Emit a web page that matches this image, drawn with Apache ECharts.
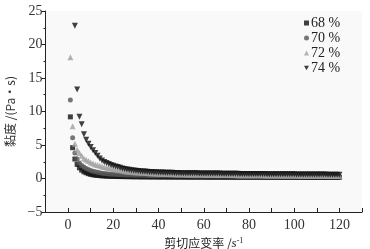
<!DOCTYPE html>
<html><head><meta charset="utf-8">
<script src="https://cdn.jsdelivr.net/npm/echarts@6/dist/echarts.min.js"></script>
<style>html,body{margin:0;padding:0;background:#fff}#c{width:370px;height:249px}</style>
</head><body><div id="c"></div>
<script>
var seriesNames = ['68 %', '70 %', '72 %', '74 %'];
var shearRate = [1,2,3,4,5,6,7,8,9,10,11,12,13,14,15,16,17,18,19,20,21,22,23,24,25,26,27,28,29,30,31,32,33,34,35,36,37,38,39,40,41,42,43,44,45,46,47,48,49,50,51,52,53,54,55,56,57,58,59,60,61,62,63,64,65,66,67,68,69,70,71,72,73,74,75,76,77,78,79,80,81,82,83,84,85,86,87,88,89,90,91,92,93,94,95,96,97,98,99,100,101,102,103,104,105,106,107,108,109,110,111,112,113,114,115,116,117,118,119,120];
var visc68 = [9.2,4.6,2.9,2.1,1.6,1.25,1.0,0.85,0.72,0.62,0.55,0.5,0.46,0.43,0.4,0.38,0.36,0.34,0.33,0.32,
0.31,0.3,0.29,0.29,0.28,0.28,0.27,0.27,0.26,0.26,0.26,0.25,0.25,0.25,0.25,0.24,0.24,0.24,0.24,0.23,
0.23,0.23,0.23,0.23,0.22,0.22,0.22,0.22,0.22,0.22,0.22,0.21,0.21,0.21,0.21,0.21,0.21,0.21,0.21,0.21,
0.2,0.2,0.2,0.2,0.2,0.2,0.2,0.2,0.2,0.2,0.2,0.2,0.19,0.19,0.19,0.19,0.19,0.19,0.19,0.19,
0.19,0.19,0.19,0.19,0.19,0.19,0.18,0.18,0.18,0.18,0.18,0.18,0.18,0.18,0.18,0.18,0.18,0.18,0.18,0.18,
0.18,0.18,0.18,0.17,0.17,0.17,0.17,0.17,0.17,0.17,0.17,0.17,0.17,0.17,0.17,0.17,0.17,0.17,0.17,0.17];
var visc70 = [11.7,6.1,3.8,2.9,2.3,1.95,1.7,1.5,1.35,1.2,1.1,1.0,0.92,0.86,0.8,0.76,0.72,0.68,0.65,0.62,
0.6,0.58,0.56,0.55,0.54,0.53,0.52,0.51,0.5,0.49,0.48,0.48,0.47,0.47,0.46,0.46,0.45,0.45,0.44,0.44,
0.44,0.43,0.43,0.43,0.42,0.42,0.42,0.41,0.41,0.41,0.4,0.4,0.4,0.4,0.39,0.39,0.39,0.39,0.38,0.38,
0.38,0.38,0.37,0.37,0.37,0.37,0.36,0.36,0.36,0.36,0.36,0.35,0.35,0.35,0.35,0.35,0.34,0.34,0.34,0.34,
0.34,0.33,0.33,0.33,0.33,0.33,0.33,0.32,0.32,0.32,0.32,0.32,0.32,0.31,0.31,0.31,0.31,0.31,0.31,0.3,
0.3,0.3,0.3,0.3,0.3,0.3,0.29,0.29,0.29,0.29,0.29,0.29,0.29,0.28,0.28,0.28,0.28,0.28,0.28,0.28];
var visc72 = [18.1,7.8,5.2,4.3,3.8,3.4,3.0,2.8,2.6,2.4,2.25,2.1,2.0,1.9,1.8,1.72,1.64,1.56,1.48,1.4,
1.34,1.28,1.22,1.16,1.1,1.05,1.01,0.98,0.95,0.92,0.9,0.88,0.86,0.84,0.82,0.8,0.78,0.76,0.74,0.72,
0.71,0.7,0.69,0.68,0.67,0.66,0.65,0.64,0.63,0.62,0.62,0.61,0.61,0.6,0.6,0.59,0.59,0.58,0.58,0.57,
0.57,0.56,0.56,0.55,0.55,0.54,0.54,0.53,0.53,0.52,0.52,0.52,0.51,0.51,0.5,0.5,0.5,0.49,0.49,0.49,
0.48,0.48,0.48,0.47,0.47,0.47,0.46,0.46,0.46,0.45,0.45,0.45,0.45,0.44,0.44,0.44,0.44,0.43,0.43,0.43,
0.43,0.42,0.42,0.42,0.42,0.41,0.41,0.41,0.41,0.4,0.4,0.4,0.4,0.4,0.39,0.39,0.39,0.39,0.38,0.38];
var visc74 = [null,null,22.8,13.3,9.2,8.1,6.6,5.8,5.2,4.7,4.2,3.8,3.4,3.0,2.7,2.45,2.3,2.15,2.0,1.9,
1.8,1.7,1.6,1.5,1.42,1.35,1.3,1.25,1.2,1.16,1.12,1.09,1.06,1.03,1.0,0.98,0.96,0.94,0.92,0.9,
0.89,0.88,0.87,0.86,0.85,0.84,0.83,0.82,0.81,0.8,0.8,0.79,0.79,0.78,0.78,0.77,0.77,0.76,0.76,0.75,
0.75,0.75,0.74,0.74,0.73,0.73,0.73,0.72,0.72,0.71,0.71,0.71,0.7,0.7,0.7,0.69,0.69,0.69,0.68,0.68,
0.68,0.67,0.67,0.67,0.66,0.66,0.66,0.65,0.65,0.65,0.64,0.64,0.64,0.63,0.63,0.63,0.62,0.62,0.62,0.62,
0.61,0.61,0.61,0.6,0.6,0.6,0.6,0.59,0.59,0.59,0.58,0.58,0.58,0.58,0.57,0.57,0.57,0.56,0.56,0.56];
var xTickLabels = ['0','20','40','60','80','100','120'];
var yTickLabels = ['-5','0','5','10','15','20','25'];

function pairs(ys){ return shearRate.map(function(x,i){ return ys[i]==null ? null : [x, ys[i]]; }).filter(function(p){return p;}); }

var serif = '"Liberation Serif","DejaVu Serif",serif';
var chart = echarts.init(document.getElementById('c'), null, {renderer:'canvas'});
var invTri = 'path://M0,0L10,0L5,9Z';
var styles = [
  {sym:'rect', size:5, color:'#111111'},
  {sym:'circle', size:5, color:'#555555'},
  {sym:'triangle', size:6, color:'#a0a0a0'},
  {sym:invTri, size:6, color:'#111111'}
];
var datasets = [visc68, visc70, visc72, visc74];
chart.setOption({
  animation:false,
  backgroundColor:'#ffffff',
  grid:{left:45.5, right:8, top:11, bottom:37, show:true, backgroundColor:'#f9f9f9', borderWidth:0, containLabel:false, outerBoundsMode:'none'},
  legend:{
    orient:'vertical', left:299, top:11, itemWidth:5, itemHeight:5, itemGap:1,
    textStyle:{fontFamily:serif, fontSize:14, color:'#222', lineHeight:14, padding:[0,0,0,-3]},
    data: seriesNames.map(function(n,i){ return {name:n, icon: styles[i].sym}; })
  },
  xAxis:{
    type:'value', min:-10, max:130, interval:10,
    name:'剪切应变率 /{s|s}{sup|-1}', nameLocation:'middle', nameGap:24,
    nameTextStyle:{fontFamily:'"Noto Sans CJK SC"', fontSize:12, color:'#222',
      rich:{s:{fontFamily:serif, fontSize:13, fontStyle:'italic', color:'#222'}, sup:{fontFamily:serif, fontSize:8, verticalAlign:'top', padding:[0,0,6,0], color:'#222'}}},
    axisLine:{onZero:false, lineStyle:{color:'#222', width:1}},
    axisTick:{inside:true, length:4, lineStyle:{color:'#222'}},
    splitLine:{show:false},
    axisLabel:{fontFamily:serif, fontSize:14, color:'#333', margin:6,
      formatter:function(v){ var s=String(v); return xTickLabels.indexOf(s)>=0 ? s : ''; }}
  },
  yAxis:{
    type:'value', min:-5, max:25, interval:5,
    name:'黏度 /(Pa·s)', nameLocation:'middle', nameGap:28, nameRotate:90,
    nameTextStyle:{fontFamily:'"Noto Sans CJK SC"', fontSize:12, color:'#333'},
    axisLine:{show:true, onZero:false, lineStyle:{color:'#222', width:1}},
    axisTick:{show:true, inside:false, length:4, lineStyle:{color:'#222'}},
    minorTick:{show:true, splitNumber:2, length:2, lineStyle:{color:'#222'}},
    splitLine:{show:false},
    axisLabel:{fontFamily:serif, fontSize:14, color:'#333', margin:3,
      formatter:function(v){ var s=String(v); return yTickLabels.indexOf(s)>=0 ? (v<0 ? '\u2212'+Math.abs(v) : s) : ''; }}
  },
  series: datasets.map(function(d,i){
    return {name:seriesNames[i], type:'scatter', symbol:styles[i].sym, symbolSize:styles[i].size,
      itemStyle:{color:styles[i].color}, data:pairs(d), clip:true};
  })
});
</script></body></html>
